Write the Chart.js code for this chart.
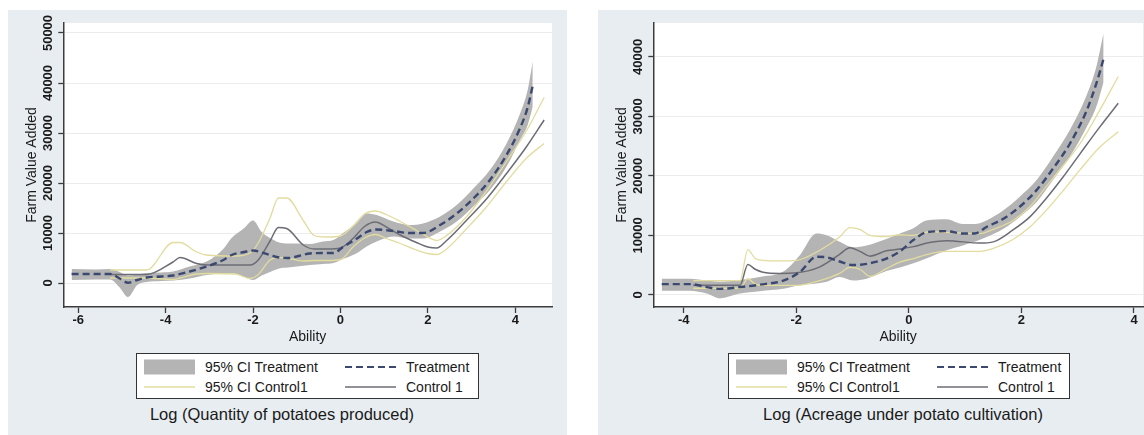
<!DOCTYPE html>
<html>
<head>
<meta charset="utf-8">
<script src="https://cdn.jsdelivr.net/npm/chart.js@4.4.1/dist/chart.umd.min.js"></script>
<style>
body { margin: 0; width: 1144px; height: 435px; position: relative; background: #fff; overflow: hidden;
       font-family: "Liberation Sans", Arial, Helvetica, sans-serif; }
.panel { position: absolute; top: 10px; height: 425px; background: #e8edf1; }
.panel canvas { position: absolute; left: 0; top: 0; }
.legend { position: absolute; top: 343px; height: 46px; background: #fff; border: 1px solid #333; box-sizing: border-box; }
.legend svg, .legend span { position: absolute; }
.legend span { font-size: 14px; line-height: 20px; color: #1a1a1a; white-space: nowrap; }
.caption { position: absolute; top: 394px; font-size: 16.5px; line-height: 20px; color: #1a1a1a;
           white-space: nowrap; transform: translateX(-50%); }
</style>
</head>
<body>
<div class="panel" id="panelQty" style="left:8px; width:559px;">
  <canvas id="chartQty" width="559" height="340"></canvas>
  <div class="legend" id="legendQty" style="left:128px; width:343px;"></div>
  <div class="caption" style="left:274px;">Log (Quantity of potatoes produced)</div>
</div>
<div class="panel" id="panelAcr" style="left:598px; width:546px;">
  <canvas id="chartAcr" width="546" height="340"></canvas>
  <div class="legend" id="legendAcr" style="left:130px; width:342px;"></div>
  <div class="caption" style="left:305px;">Log (Acreage under potato cultivation)</div>
</div>
<script>
// left panel: log quantity produced
const qtyTreatX = [-6.15, -5.6, -5.27, -5.05, -4.86, -4.65, -4.43, -4.1, -3.83, -3.45, -3.06, -2.68, -2.49, -2.2, -2.0, -1.8, -1.61, -1.4, -1.2, -1.0, -0.7, -0.4, -0.16, 0.06, 0.36, 0.6, 0.83, 1.21, 1.59, 1.89, 2.28, 2.66, 3.04, 3.42, 3.8, 4.11, 4.28, 4.4];
const qtyTreat = [1800, 1800, 1800, 900, 50, 600, 1100, 1300, 1500, 2300, 3300, 4600, 5600, 6200, 6500, 6100, 5600, 5100, 5000, 5300, 5900, 6000, 6000, 7200, 8800, 10200, 10700, 10400, 10000, 10000, 11600, 13900, 16900, 20600, 25600, 31000, 35000, 39500];
const qtyBandLo = [600, 700, 700, -900, -2800, -400, 200, 400, 500, 900, 1600, 1900, 1900, 1200, 600, 1500, 2200, 2900, 3100, 3300, 3600, 3800, 4000, 4800, 5900, 7300, 8300, 9300, 8900, 8900, 10300, 12300, 15300, 18600, 23300, 28600, 31500, 35300];
const qtyBandHi = [2800, 2700, 2800, 2200, 1500, 1700, 2000, 2100, 2300, 3300, 4300, 6800, 9000, 11000, 12500, 10200, 9000, 8100, 7900, 7900, 7800, 8300, 8600, 10000, 11900, 13900, 13600, 12300, 11600, 11900, 13300, 15600, 18900, 22600, 27900, 33900, 38500, 44300];
const qtyCtrlX = [-5.27, -4.43, -3.83, -3.67, -3.29, -3.06, -2.4, -2.07, -1.88, -1.61, -1.42, -1.23, -0.85, -0.6, -0.3, 0.0, 0.3, 0.55, 0.8, 1.05, 1.37, 1.74, 2.0, 2.2, 2.43, 2.88, 3.35, 3.8, 4.26, 4.66];
const qtyCtrl = [1700, 1700, 4200, 5100, 3900, 3600, 3600, 3600, 4600, 8400, 11100, 10900, 7600, 6800, 6800, 7000, 9000, 11300, 12200, 11200, 9600, 8100, 7200, 7000, 8500, 12500, 16900, 21900, 27300, 32600];
const qtyCiHi = [2600, 2600, 8100, 8100, 6200, 5600, 5400, 6000, 8000, 13000, 17000, 17000, 12500, 9500, 9200, 9400, 11500, 13800, 14400, 13700, 12300, 10500, 9200, 8500, 9500, 13200, 18500, 24300, 30500, 37100];
const qtyCiLo = [1000, 1000, 700, 1000, 1800, 1900, 1800, 900, 1700, 4600, 5100, 5000, 4400, 4500, 4500, 4700, 7300, 9000, 9700, 8900, 7900, 6600, 5900, 5700, 6800, 10800, 15300, 20300, 25000, 27900];
const qtyXTicks = [-6, -4, -2, 0, 2, 4];
const qtyYTicks = [0, 10000, 20000, 30000, 40000, 50000];

// right panel: log acreage
const acrTreatX = [-4.39, -3.89, -3.59, -3.36, -3.0, -2.65, -2.23, -1.94, -1.64, -1.46, -1.23, -0.99, -0.75, -0.4, -0.16, 0.08, 0.31, 0.67, 0.96, 1.17, 1.38, 1.68, 1.97, 2.27, 2.56, 2.86, 3.16, 3.33, 3.46];
const acrTreat = [1800, 1800, 1300, 1000, 1300, 1700, 2400, 3800, 6400, 6300, 5600, 5000, 5200, 6100, 7300, 9200, 10500, 10700, 10300, 10300, 11400, 12800, 14800, 17600, 21200, 25400, 31000, 35500, 39700];
const acrBandLo = [700, 700, 200, -600, 200, 600, 1000, 1600, 1900, 2200, 3000, 2400, 2700, 4000, 4600, 5300, 6100, 7500, 8300, 8900, 9700, 11100, 13100, 15600, 19300, 23200, 28200, 31600, 35800];
const acrBandHi = [2700, 2700, 2400, 2200, 2500, 3000, 3900, 6600, 10300, 10000, 8900, 8000, 8300, 9400, 10300, 11200, 12500, 12700, 11900, 11900, 12500, 14200, 16500, 19300, 23200, 27700, 33600, 38300, 44000];
const acrCtrlX = [-3.83, -3.0, -2.86, -2.73, -2.59, -2.29, -1.99, -1.58, -1.23, -1.05, -0.87, -0.69, -0.4, -0.16, 0.08, 0.37, 0.67, 1.26, 1.5, 1.85, 2.15, 2.44, 2.74, 3.04, 3.39, 3.72];
const acrCtrl = [1600, 1600, 5100, 4300, 3800, 3600, 3700, 4700, 6800, 7900, 7300, 6500, 7400, 7700, 8100, 8800, 9100, 8700, 8900, 10900, 13100, 16200, 19800, 23700, 28200, 32200];
const acrCiHi = [2400, 2400, 7600, 6100, 5800, 5700, 5800, 7500, 9700, 11300, 11000, 10000, 9800, 10100, 10000, 10600, 10500, 10300, 11000, 12500, 14800, 18200, 21700, 25400, 31000, 36700];
const acrCiLo = [1100, 1100, 2700, 1800, 1600, 1600, 1600, 2400, 3600, 4600, 4300, 3100, 4400, 5500, 6100, 6900, 7300, 7300, 7800, 9300, 11400, 14200, 17500, 21000, 24800, 27400];
const acrXTicks = [-4, -2, 0, 2, 4];
const acrYTicks = [0, 10000, 20000, 30000, 40000];

const FONT = '"Liberation Sans", Arial, Helvetica, sans-serif';
const TEXT = '#1a1a1a';
const AXIS = '#3c3c3c';
const BAND = '#b4b4b4';
const NAVY = '#3b4870';
const CTRL = '#6c6c75';
const KHAKI = '#e2dc9e';

const pts = (xs, ys) => xs.map((x, i) => ({ x: x, y: ys[i] }));

// white plot region like stata
const plotBg = {
    id: 'plotBg',
    beforeDraw(chart) {
        const a = chart.chartArea;
        const ctx = chart.ctx;
        ctx.save();
        ctx.fillStyle = '#fff';
        ctx.fillRect(a.left, a.top, a.right - a.left, a.bottom - a.top);
        ctx.restore();
    }
};

// padding so rotated y labels sit centred at labelX
const yLabelPad = (labels, font, labelX, axisRight, tickLen) => {
    const ctx = document.createElement('canvas').getContext('2d');
    ctx.font = font.weight + ' ' + font.size + 'px ' + font.family;
    const w = Math.max(...labels.map(s => ctx.measureText(s).width));
    return axisRight - tickLen - labelX - w / 2;
};

const makeChart = (id, d) => {
    const tickFont = { family: FONT, size: 13, weight: 'bold' };
    const yPad = yLabelPad(d.yTicks.map(String), tickFont, 40, 55.3, 5);

    return new Chart(document.getElementById(id), {
        type: 'line',
        data: {
            datasets: [
                { label: 'Treatment', data: pts(d.treatX, d.treat), borderColor: NAVY, borderWidth: 2.4, borderDash: [7, 4] },
                { label: 'Control 1', data: pts(d.ctrlX, d.ctrl), borderColor: CTRL, borderWidth: 1.5 },
                { label: '95% CI Control1', data: pts(d.ctrlX, d.ciHi), borderColor: KHAKI, borderWidth: 1.3 },
                { label: '95% CI Control1 low', data: pts(d.ctrlX, d.ciLo), borderColor: KHAKI, borderWidth: 1.3 },
                { label: '95% CI Treatment', data: pts(d.treatX, d.bandHi), borderColor: 'transparent', borderWidth: 0 },
                { label: '95% CI Treatment low', data: pts(d.treatX, d.bandLo), borderColor: 'transparent', borderWidth: 0,
                  backgroundColor: BAND, fill: '-1' }
            ]
        },
        options: {
            responsive: false,
            animation: false,
            events: [],
            layout: { padding: { top: 13, right: d.padRight, left: 0, bottom: 0 } },
            elements: {
                point: { radius: 0 },
                line: { cubicInterpolationMode: 'monotone', fill: false }
            },
            scales: {
                x: {
                    type: 'linear',
                    min: d.xMin,
                    max: d.xMax,
                    afterBuildTicks: s => { s.ticks = d.xTicks.map(v => ({ value: v })); },
                    afterFit: s => { s.height = 43; },
                    ticks: { font: tickFont, color: TEXT, padding: 0, autoSkip: false, maxRotation: 0, callback: v => String(v) },
                    grid: { drawOnChartArea: false, tickLength: 6, tickColor: AXIS, tickWidth: 1.3 },
                    border: { color: AXIS, width: 1.5 },
                    title: { display: true, text: 'Ability', color: TEXT, font: { family: FONT, size: 14 }, padding: { top: 0, bottom: 4.6 } }
                },
                y: {
                    min: d.yMin,
                    max: d.yMax,
                    afterBuildTicks: s => { s.ticks = d.yTicks.map(v => ({ value: v })); },
                    afterFit: s => { s.width = 55.3; },
                    ticks: { font: tickFont, color: TEXT, padding: yPad, crossAlign: 'center', minRotation: 90, maxRotation: 90,
                             autoSkip: false, callback: v => String(v) },
                    grid: { color: '#ececec', lineWidth: 1, tickLength: 5, tickColor: AXIS, tickWidth: 1.3 },
                    border: { color: AXIS, width: 1.5 },
                    title: { display: true, text: 'Farm Value Added', color: TEXT, font: { family: FONT, size: 14 }, padding: { top: 16, bottom: 0 } }
                }
            },
            plugins: {
                legend: { display: false },
                tooltip: { enabled: false }
            }
        },
        plugins: [plotBg]
    });
};

// html legend, boxed in two columns like stata
const legendItems = [
    { text: '95% CI Treatment', kind: 'band', col: 0, row: 0 },
    { text: 'Treatment', kind: 'dash', col: 1, row: 0 },
    { text: '95% CI Control1', kind: 'ci', col: 0, row: 1 },
    { text: 'Control 1', kind: 'ctrl', col: 1, row: 1 }
];

const swatch = kind => {
    if (kind === 'band') return '<rect x="0" y="0.5" width="51" height="15" fill="' + BAND + '"/>';
    if (kind === 'dash') return '<line x1="0" y1="8" x2="51" y2="8" stroke="' + NAVY + '" stroke-width="2" stroke-dasharray="7 4"/>';
    if (kind === 'ci') return '<line x1="0" y1="8" x2="51" y2="8" stroke="' + KHAKI + '" stroke-width="1.4"/>';
    return '<line x1="0" y1="8" x2="51" y2="8" stroke="' + CTRL + '" stroke-width="1.5"/>';
};

const buildLegend = id => {
    const box = document.getElementById(id);
    legendItems.map(item => {
        const rowY = item.row === 0 ? 13 : 33;
        const svg = document.createElementNS('http://www.w3.org/2000/svg', 'svg');
        svg.setAttribute('width', '51');
        svg.setAttribute('height', '16');
        svg.style.left = (item.col === 0 ? 7 : 208) + 'px';
        svg.style.top = (rowY - 8) + 'px';
        svg.innerHTML = swatch(item.kind);
        box.appendChild(svg);

        const label = document.createElement('span');
        label.textContent = item.text;
        label.style.left = (item.col === 0 ? 68 : 269) + 'px';
        label.style.top = (rowY - 10) + 'px';
        box.appendChild(label);
    });
};

makeChart('chartQty', {
    treatX: qtyTreatX, treat: qtyTreat, bandLo: qtyBandLo, bandHi: qtyBandHi,
    ctrlX: qtyCtrlX, ctrl: qtyCtrl, ciLo: qtyCiLo, ciHi: qtyCiHi,
    xTicks: qtyXTicks, yTicks: qtyYTicks,
    xMin: -6.34, xMax: 4.84, yMin: -4800, yMax: 52000, padRight: 15
});

makeChart('chartAcr', {
    treatX: acrTreatX, treat: acrTreat, bandLo: acrBandLo, bandHi: acrBandHi,
    ctrlX: acrCtrlX, ctrl: acrCtrl, ciLo: acrCiLo, ciHi: acrCiHi,
    xTicks: acrXTicks, yTicks: acrYTicks,
    xMin: -4.54, xMax: 4.16, yMin: -2050, yMax: 45700, padRight: 1
});

buildLegend('legendQty');
buildLegend('legendAcr');
</script>
</body>
</html>
